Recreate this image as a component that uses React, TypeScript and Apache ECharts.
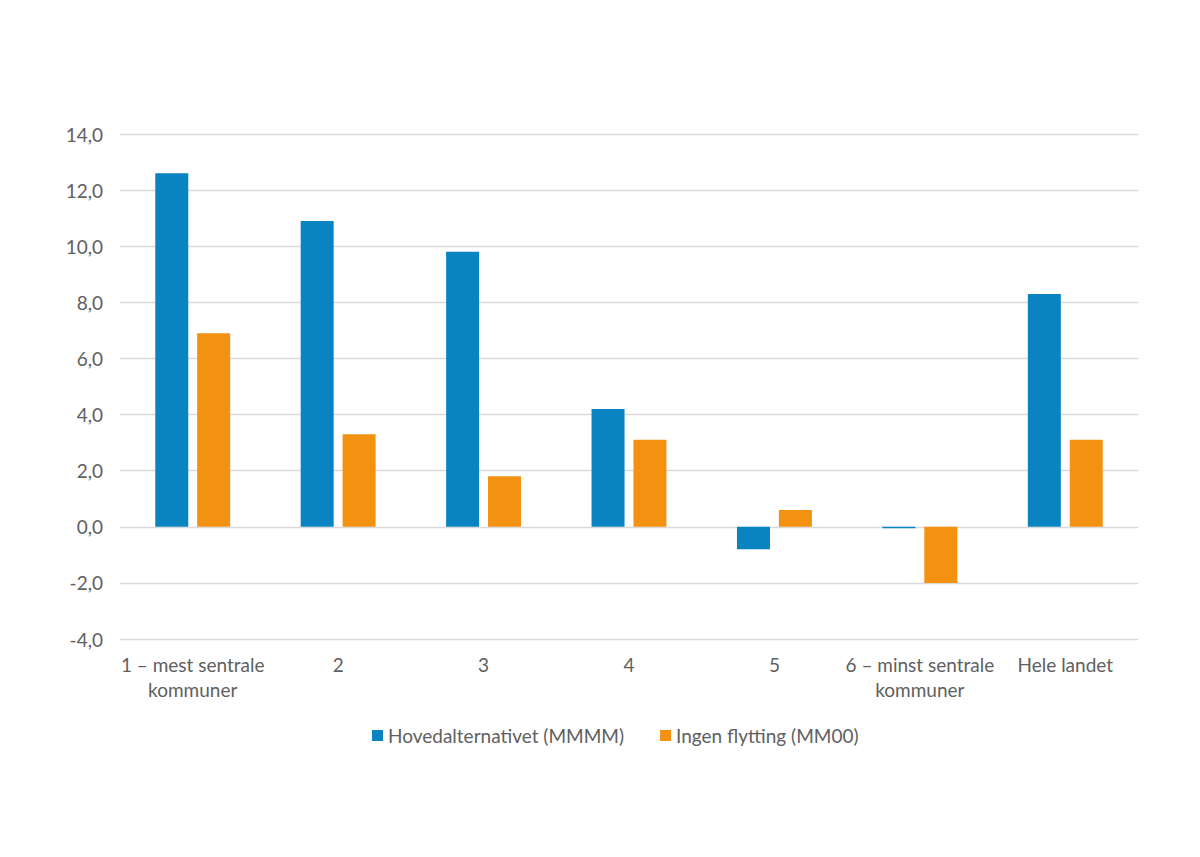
import React, { useEffect, useRef } from "react";
import * as echarts from "echarts";

const categories = [
  "1 – mest sentrale\nkommuner",
  "2",
  "3",
  "4",
  "5",
  "6 – minst sentrale\nkommuner",
  "Hele landet",
];
const hovedalternativet = [12.6, 10.9, 9.8, 4.2, -0.8, -0.05, 8.3];
const ingenFlytting = [6.9, 3.3, 1.8, 3.1, 0.6, -2.0, 3.1];
const seriesNames = ["Hovedalternativet (MMMM)", "Ingen flytting (MM00)"];

const FONT = "Lato, 'Open Sans', sans-serif";
const TEXT = "#606060";

export default function App() {
  const ref = useRef<HTMLDivElement>(null);
  useEffect(() => {
    if (!ref.current) return;
    const chart = echarts.init(ref.current, undefined, { renderer: "svg" });
    chart.setOption({
      animation: false,
      textStyle: { fontFamily: FONT },
      grid: { left: 112, right: 54, top: 126, bottom: 210, containLabel: false },
      legend: {
        bottom: 99,
        left: 359,
        itemWidth: 11,
        itemHeight: 11,
        itemGap: 36,
        icon: "rect",
        textStyle: { fontSize: 19, color: TEXT, fontFamily: FONT },
        data: seriesNames,
      },
      xAxis: {
        type: "category",
        data: categories,
        position: "bottom",
        axisLine: { show: false },
        axisTick: { show: false },
        axisLabel: {
          color: TEXT,
          fontSize: 19,
          lineHeight: 25,
          margin: 13,
          interval: 0,
          fontFamily: FONT,
        },
      },
      yAxis: {
        type: "value",
        min: -4,
        max: 14,
        interval: 2,
        axisLine: { show: false },
        axisTick: { show: false },
        splitLine: { lineStyle: { color: "#D9D9D9", width: 1.3 } },
        axisLabel: {
          color: TEXT,
          fontSize: 19,
          margin: 17,
          fontFamily: FONT,
          formatter: (v: number) => v.toFixed(1).replace(".", ","),
        },
      },
      series: [
        {
          name: seriesNames[0],
          type: "bar",
          data: hovedalternativet,
          barWidth: 33,
          barGap: "27%",
          itemStyle: { color: "#0A84C1" },
        },
        {
          name: seriesNames[1],
          type: "bar",
          data: ingenFlytting,
          barWidth: 33,
          itemStyle: { color: "#F39110" },
        },
      ],
    });
    return () => chart.dispose();
  }, []);
  return <div ref={ref} style={{ width: 1184, height: 841 }} />;
}
